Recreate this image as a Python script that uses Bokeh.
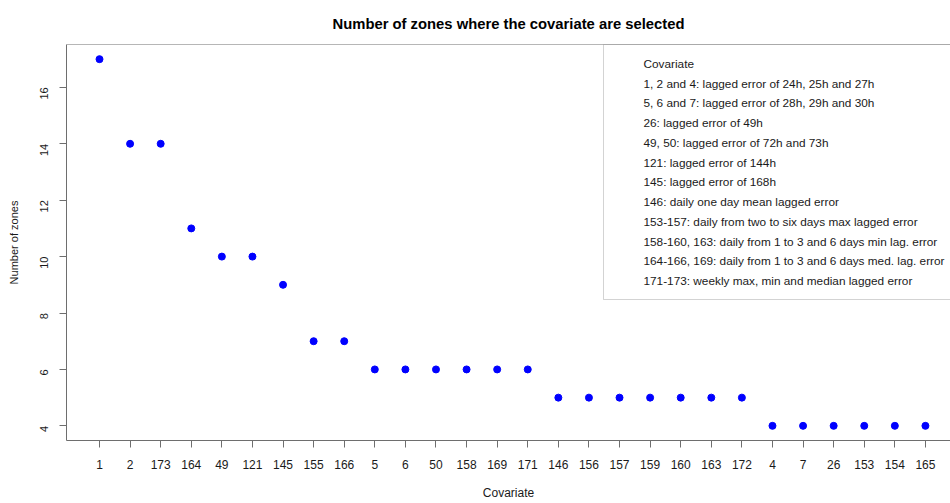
from bokeh.plotting import figure
from bokeh.models import (ColumnDataSource, FixedTicker, Span, BoxAnnotation, Title)
from bokeh.embed import file_html
from bokeh.resources import INLINE
from bokeh.core.properties import value

# ---- data ----
covariates = ["1", "2", "173", "164", "49", "121", "145", "155", "166", "5", "6", "50",
              "158", "169", "171", "146", "156", "157", "159", "160", "163", "172",
              "4", "7", "26", "153", "154", "165"]
zones = [17, 14, 14, 11, 10, 10, 9, 7, 7, 6, 6, 6, 6, 6, 6, 5, 5, 5, 5, 5, 5, 5,
         4, 4, 4, 4, 4, 4]
y_ticks = [4, 6, 8, 10, 12, 14, 16]
title_text = "Number of zones where the covariate are selected"
legend_lines = [
    "Covariate",
    "1, 2 and 4: lagged error of 24h, 25h and 27h",
    "5, 6 and 7: lagged error of 28h, 29h and 30h",
    "26: lagged error of 49h",
    "49, 50: lagged error of 72h and 73h",
    "121: lagged error of 144h",
    "145: lagged error of 168h",
    "146: daily one day mean lagged error",
    "153-157: daily from two to six days max lagged error",
    "158-160, 163: daily from 1 to 3 and 6 days min lag. error",
    "164-166, 169: daily from 1 to 3 and 6 days med. lag. error",
    "171-173: weekly max, min and median lagged error",
]

# ---- layout (pixels) ----
W, H = 950, 503
BL, BR, BT, BB = 66, 0, 44, 63
frame_w = W - BL - BR
frame_h = H - BT - BB
n = len(covariates)
px_per_x = 30.59
x0 = 1 - 33.0 / px_per_x
x1 = x0 + frame_w / px_per_x
pad = 0.04 * (max(zones) - min(zones))
y0, y1 = min(zones) - pad, max(zones) + pad
px_per_y = frame_h / (y1 - y0)

FONT = "Liberation Sans"
TXT = "#1a1a1a"
AX = "#6e6e6e"

p = figure(width=W, height=H, x_range=(x0, x1), y_range=(y0, y1),
           output_backend="svg", toolbar_location=None,
           min_border_left=BL, min_border_right=BR, min_border_top=BT, min_border_bottom=BB)
p.title = Title(text=title_text, align="center",
                text_font=FONT, text_font_size="14.8px", text_font_style="bold",
                text_color="black", standoff=26, offset=6)
p.outline_line_color = None
p.grid.visible = False
p.background_fill_color = "white"
p.border_fill_color = "white"

xs = list(range(1, n + 1))
src = ColumnDataSource(dict(x=xs, y=zones, name=covariates))
p.scatter("x", "y", source=src, size=7, color="#0000ff", line_color="#0000ff")

# axes
xa = p.xaxis[0]
xa.ticker = FixedTicker(ticks=xs)
xa.major_label_overrides = {i: c for i, c in zip(xs, covariates)}
ya = p.yaxis[0]
ya.ticker = FixedTicker(ticks=y_ticks)
ya.major_label_orientation = 3.14159265 / 2
for ax in (xa, ya):
    ax.axis_line_color = AX
    ax.major_tick_line_color = AX
    ax.major_tick_in = 0
    ax.major_tick_out = 7
    ax.minor_tick_line_color = None
    ax.major_label_text_font = FONT
    ax.major_label_text_color = TXT
    ax.axis_label_text_font = FONT
    ax.axis_label_text_font_style = "normal"
    ax.axis_label_text_color = TXT
xa.major_label_standoff = 12
xa.axis_label_standoff = 14
ya.major_label_standoff = 15
ya.axis_label_standoff = 14
xa.major_label_text_font_size = "12px"
xa.axis_label_text_font_size = "12px"
ya.major_label_text_font_size = "11px"
ya.axis_label_text_font_size = "11px"
xa.axis_label = "Covariate"
ya.axis_label = "Number of zones"

# top border of plot box
p.add_layout(Span(location=y1, dimension="width", line_color=AX, line_width=1))

# legend box and text
leg_left = x0 + (603 - BL) / px_per_x
leg_bottom = y1 - (299 - BT) / px_per_y
p.add_layout(BoxAnnotation(left=leg_left, right=x1 + 5, bottom=leg_bottom, top=y1,
                           fill_color=None, line_color=AX, line_width=1))
text_x = x0 + (643 - BL) / px_per_x
first_y = y1 - (63.5 - BT) / px_per_y
step = 19.73 / px_per_y
lsrc = ColumnDataSource(dict(x=[text_x] * len(legend_lines),
                             y=[first_y - i * step for i in range(len(legend_lines))],
                             t=legend_lines))
p.text("x", "y", text="t", source=lsrc, text_font=value(FONT), text_font_size="11.8px",
       text_color=TXT, text_baseline="middle", text_align="left")

open("out.html", "w").write(file_html(p, INLINE))
